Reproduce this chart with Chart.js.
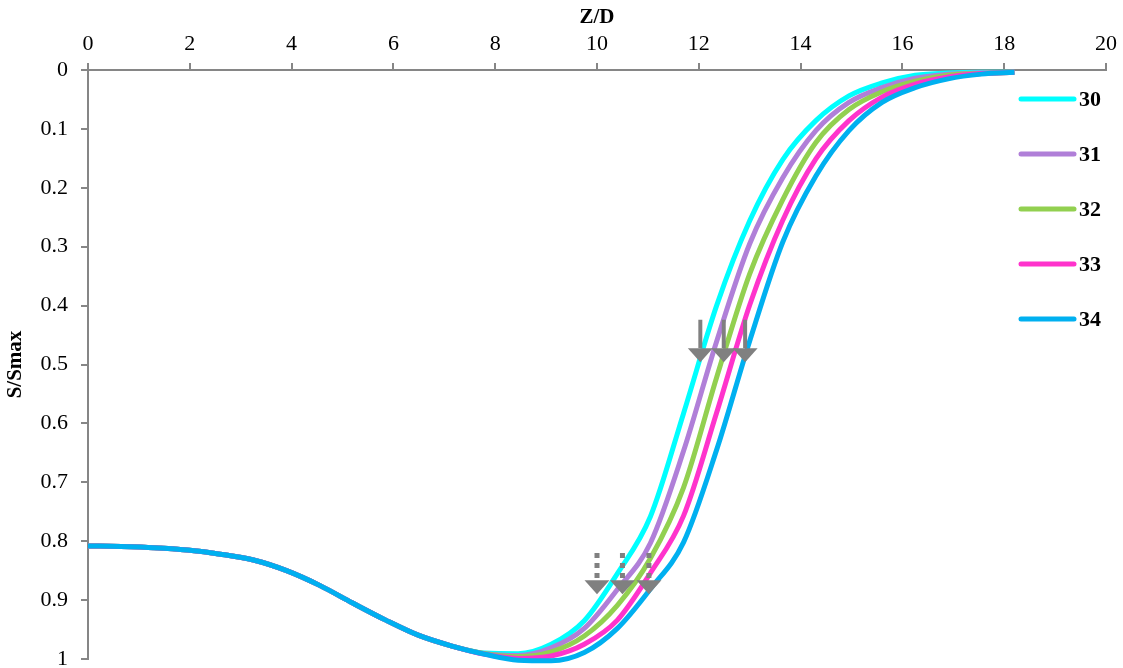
<!DOCTYPE html>
<html lang="en">
<head>
  <meta charset="UTF-8">
  <title>S/Smax vs Z/D</title>
  <script src="https://cdn.jsdelivr.net/npm/chart.js"></script>
  <style>
    html, body { margin: 0; padding: 0; background: #fff; }
    canvas { display: block; }
  </style>
</head>
<body>
  <canvas id="profileChart" width="1123" height="668"></canvas>

  <script>
    // Z/D sample positions
    const zd = [0, 0.65, 1.3, 1.95, 2.6, 3.25, 3.9, 4.55, 5.2, 5.85, 6.5, 7.15, 7.8, 8.45, 9.1, 9.75,
                10.4, 11.05, 11.7, 12.35, 13.0, 13.65, 14.3, 14.95, 15.6, 16.25, 16.9, 17.55, 18.2];

    // S/Smax for each case
    const s30 = [0.808, 0.809, 0.811, 0.815, 0.822, 0.832, 0.850, 0.875, 0.905, 0.934, 0.960, 0.978, 0.990, 0.991, 0.975, 0.935,
                 0.855, 0.758, 0.583, 0.400, 0.256, 0.152, 0.086, 0.044, 0.022, 0.009, 0.005, 0.004, 0.004];
    const s31 = [0.808, 0.809, 0.811, 0.815, 0.822, 0.832, 0.850, 0.875, 0.905, 0.934, 0.960, 0.978, 0.991, 0.994, 0.981, 0.948,
                 0.882, 0.803, 0.647, 0.461, 0.295, 0.183, 0.103, 0.055, 0.030, 0.014, 0.007, 0.005, 0.004];
    const s32 = [0.808, 0.809, 0.811, 0.815, 0.822, 0.832, 0.850, 0.875, 0.905, 0.934, 0.960, 0.978, 0.991, 0.996, 0.988, 0.961,
                 0.909, 0.829, 0.709, 0.522, 0.346, 0.220, 0.123, 0.067, 0.037, 0.019, 0.009, 0.006, 0.004];
    const s33 = [0.808, 0.809, 0.811, 0.815, 0.822, 0.832, 0.850, 0.875, 0.905, 0.934, 0.960, 0.978, 0.992, 0.999, 0.995, 0.975,
                 0.934, 0.854, 0.757, 0.582, 0.399, 0.255, 0.151, 0.086, 0.046, 0.024, 0.012, 0.006, 0.004];
    const s34 = [0.808, 0.809, 0.811, 0.815, 0.822, 0.832, 0.850, 0.875, 0.905, 0.934, 0.960, 0.978, 0.992, 1.002, 1.003, 0.989,
                 0.948, 0.881, 0.802, 0.645, 0.460, 0.292, 0.180, 0.103, 0.055, 0.030, 0.015, 0.007, 0.004];

    const seriesNames = ['30', '31', '32', '33', '34'];
    const seriesColors = ['#00FFFF', '#B07FD8', '#92D050', '#FF33CC', '#00B0F0'];

    // arrow markers (Z/D position, shaft top and tip in S/Smax)
    const solidArrowX = [12.03, 12.49, 12.91];
    const solidArrowTop = 0.424;
    const solidArrowTip = 0.496;
    const dottedArrowX = [10.0, 10.5, 11.02];
    const dottedArrowTop = 0.82;
    const dottedArrowTip = 0.89;

    const serif = "'Liberation Serif', 'Times New Roman', serif";
    const axisGray = '#868686';
    const arrowGray = '#808080';

    const allSeries = [s30, s31, s32, s33, s34];
    const datasets = allSeries.map((vals, i) => ({
      label: seriesNames[i],
      data: zd.map((x, k) => ({ x: x, y: vals[k] })),
      borderColor: seriesColors[i],
      backgroundColor: seriesColors[i],
      borderWidth: 5,
      pointRadius: 0,
      cubicInterpolationMode: 'monotone',
      fill: false,
      clip: false,
      order: allSeries.length - 1 - i
    }));

    function drawArrow(ctx, x, yTop, yTip, dotted) {
      const headH = 14;
      const halfW = 12.5;
      ctx.save();
      ctx.strokeStyle = arrowGray;
      ctx.fillStyle = arrowGray;
      ctx.lineWidth = dotted ? 5 : 4;
      if (dotted) ctx.setLineDash([5, 5]);
      ctx.beginPath();
      ctx.moveTo(x, yTop);
      ctx.lineTo(x, yTip - headH);
      ctx.stroke();
      ctx.setLineDash([]);
      ctx.beginPath();
      ctx.moveTo(x - halfW, yTip - headH);
      ctx.lineTo(x + halfW, yTip - headH);
      ctx.lineTo(x, yTip);
      ctx.closePath();
      ctx.fill();
      ctx.restore();
    }

    const arrowPlugin = {
      id: 'arrows',
      afterDatasetsDraw(chart) {
        const { ctx, scales: { x, y } } = chart;
        solidArrowX.forEach(v => {
          drawArrow(ctx, x.getPixelForValue(v), y.getPixelForValue(solidArrowTop), y.getPixelForValue(solidArrowTip), false);
        });
        dottedArrowX.forEach(v => {
          drawArrow(ctx, x.getPixelForValue(v), y.getPixelForValue(dottedArrowTop), y.getPixelForValue(dottedArrowTip), true);
        });
      }
    };

    // legend drawn inside the plot, on the right
    const sideLegend = {
      id: 'sideLegend',
      afterDraw(chart) {
        const ctx = chart.ctx;
        ctx.save();
        ctx.font = 'bold 22px ' + serif;
        ctx.textBaseline = 'middle';
        ctx.textAlign = 'left';
        chart.data.datasets.forEach((ds, i) => {
          const yy = 99 + i * 55;
          ctx.strokeStyle = ds.borderColor;
          ctx.lineWidth = 5;
          ctx.lineCap = 'round';
          ctx.beginPath();
          ctx.moveTo(1021, yy);
          ctx.lineTo(1074, yy);
          ctx.stroke();
          ctx.fillStyle = '#000';
          ctx.fillText(ds.label, 1079, yy + 1);
        });
        ctx.restore();
      }
    };

    new Chart(document.getElementById('profileChart').getContext('2d'), {
      type: 'line',
      data: { datasets },
      options: {
        responsive: false,
        animation: false,
        devicePixelRatio: 1,
        layout: { padding: { left: 0, top: 0, right: 17, bottom: 9 } },
        plugins: {
          legend: { display: false },
          tooltip: { enabled: false }
        },
        scales: {
          x: {
            type: 'linear',
            position: 'top',
            min: 0,
            max: 20,
            afterFit(scale) { scale.height = 70; },
            ticks: { stepSize: 2, color: '#000', font: { family: serif, size: 22 }, padding: 6, maxRotation: 0 },
            grid: { drawOnChartArea: false, drawTicks: true, tickLength: 7, color: axisGray, lineWidth: 2 },
            border: { color: axisGray, width: 2 },
            title: { display: true, text: 'Z/D', color: '#000', font: { family: serif, size: 21, weight: 'bold' }, padding: { top: 5, bottom: 0 } }
          },
          y: {
            type: 'linear',
            reverse: true,
            min: 0,
            max: 1,
            afterFit(scale) {
              scale.width = 88;
              scale.paddingTop = 0;
              scale.paddingBottom = 0;
            },
            ticks: {
              stepSize: 0.1,
              color: '#000',
              font: { family: serif, size: 22 },
              padding: 13,
              callback: v => String(Number(v.toFixed(1)))
            },
            grid: { drawOnChartArea: false, drawTicks: true, tickLength: 7, color: axisGray, lineWidth: 2 },
            border: { color: axisGray, width: 2 },
            title: { display: true, text: 'S/Smax', color: '#000', font: { family: serif, size: 21, weight: 'bold' }, padding: { top: 3, bottom: 0 } }
          }
        }
      },
      plugins: [arrowPlugin, sideLegend]
    });
  </script>
</body>
</html>
